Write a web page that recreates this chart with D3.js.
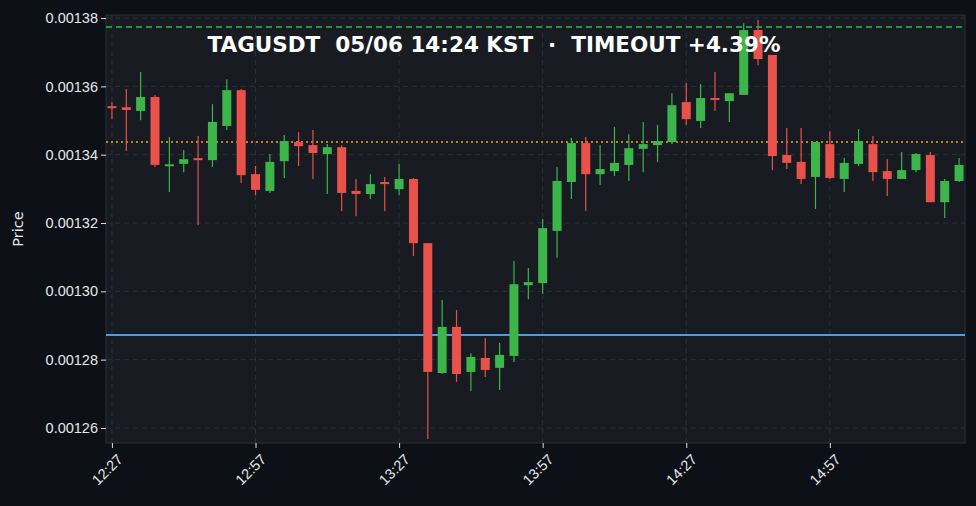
<!DOCTYPE html>
<html><head><meta charset="utf-8">
<script src="https://cdn.jsdelivr.net/npm/d3@7/dist/d3.min.js"></script>
<style>body{margin:0;background:#0d1117;}svg{display:block;font-family:"DejaVu Sans",sans-serif;}text{white-space:pre;}</style>
</head><body><svg id="c" width="976" height="506"></svg>
<script>
const startTime = "2024-05-06 12:27";
const stepMinutes = 3;
// prices in units of 1e-3 USDT
const opens  = [1.3542,1.3539,1.3528,1.3569,1.3370,1.3373,1.3390,1.3384,1.3484,1.3589,1.3343,1.3294,1.3381,1.3437,1.3428,1.3402,1.3422,1.3294,1.3285,1.3320,1.3299,1.3329,1.3141,1.2761,1.2896,1.2764,1.2805,1.2776,1.2811,1.3018,1.3024,1.3177,1.3320,1.3434,1.3343,1.3352,1.3370,1.3417,1.3428,1.3437,1.3554,1.3499,1.3566,1.3557,1.3575,1.3765,1.3692,1.3399,1.3379,1.3335,1.3431,1.3329,1.3373,1.3431,1.3352,1.3329,1.3355,1.3399,1.3261,1.3323];
const highs  = [1.3554,1.3592,1.3642,1.3575,1.3452,1.3414,1.3455,1.3548,1.3621,1.3592,1.3367,1.3402,1.3458,1.3466,1.3472,1.3431,1.3428,1.3329,1.3343,1.3335,1.3373,1.3332,1.3141,1.2975,1.2945,1.2819,1.2863,1.2849,1.3089,1.3068,1.3212,1.3364,1.3449,1.3452,1.3428,1.3481,1.3460,1.3496,1.3487,1.3580,1.3610,1.3607,1.3642,1.3580,1.3785,1.3794,1.3692,1.3478,1.3478,1.3437,1.3469,1.3390,1.3475,1.3455,1.3387,1.3408,1.3405,1.3408,1.3329,1.3390];
const lows   = [1.3504,1.3411,1.3501,1.3364,1.3291,1.3349,1.3194,1.3364,1.3472,1.3317,1.3282,1.3288,1.3332,1.3367,1.3329,1.3285,1.3235,1.3220,1.3270,1.3235,1.3282,1.3103,1.2568,1.2758,1.2735,1.2708,1.2749,1.2711,1.2793,1.2977,1.2992,1.3098,1.3270,1.3235,1.3311,1.3338,1.3323,1.3349,1.3379,1.3431,1.3487,1.3478,1.3528,1.3496,1.3575,1.3662,1.3355,1.3358,1.3314,1.3241,1.3329,1.3291,1.3367,1.3323,1.3279,1.3329,1.3349,1.3261,1.3215,1.3320];
const closes = [1.3537,1.3531,1.3569,1.3370,1.3372,1.3387,1.3384,1.3496,1.3589,1.3340,1.3297,1.3379,1.3440,1.3425,1.3405,1.3422,1.3288,1.3285,1.3314,1.3314,1.3329,1.3141,1.2764,1.2896,1.2758,1.2808,1.2770,1.2814,1.3021,1.3027,1.3185,1.3323,1.3434,1.3343,1.3358,1.3376,1.3419,1.3431,1.3440,1.3545,1.3504,1.3566,1.3560,1.3580,1.3765,1.3680,1.3396,1.3376,1.3329,1.3437,1.3332,1.3376,1.3440,1.3349,1.3329,1.3355,1.3402,1.3261,1.3323,1.3370];
const yTicks = [1.26,1.28,1.30,1.32,1.34,1.36,1.38];
const xTickEvery = 10; // candles
const targetLine = 1.3774, refLine = 1.3437, entryLine = 1.2872;
const titleText = "TAGUSDT  05/06 14:24 KST  ·  TIMEOUT +4.39%";

const parse = d3.timeParse("%Y-%m-%d %H:%M");
const t0 = parse(startTime);
const data = opens.map((o,i)=>({t:new Date(t0.getTime()+i*stepMinutes*60000),o,h:highs[i],l:lows[i],c:closes[i]}));

const svg = d3.select("#c");
const L=106,R=965,T=15,B=443;
svg.append("rect").attr("x",L).attr("y",T).attr("width",R-L).attr("height",B-T).attr("fill","#181b22").attr("stroke","#2c3038");
const pad = 1.24*60000;
const x = d3.scaleTime().domain([new Date(data[0].t-pad), new Date(+data[data.length-1].t+pad)]).range([L,R]);
const y = d3.scaleLinear().domain([1.2556,1.3809]).range([B,T]);
const xTicks = data.filter((d,i)=>i%xTickEvery===0).map(d=>d.t);

const g = svg.append("g");
g.selectAll(".gy").data(yTicks).join("line").attr("x1",L).attr("x2",R).attr("y1",d=>y(d)).attr("y2",d=>y(d)).attr("stroke","#2c3038").attr("stroke-dasharray","5,4");
g.selectAll(".gx").data(xTicks).join("line").attr("x1",d=>x(d)).attr("x2",d=>x(d)).attr("y1",T).attr("y2",B).attr("stroke","#2c3038").attr("stroke-dasharray","5,4");

const ya = svg.append("g").attr("transform",`translate(${L},0)`).call(d3.axisLeft(y).tickValues(yTicks).tickFormat(d=>(d/1000).toFixed(5)).tickSize(5));
ya.select(".domain").remove();
ya.selectAll("line").attr("stroke","#ddd");
ya.selectAll("text").attr("fill","#e6e6e6").attr("font-size",14.5);
const xa = svg.append("g").attr("transform",`translate(0,${B})`).call(d3.axisBottom(x).tickValues(xTicks).tickFormat(d3.timeFormat("%H:%M")).tickSize(5));
xa.select(".domain").remove();
xa.selectAll("line").attr("stroke","#ddd");
xa.selectAll("text").attr("fill","#e6e6e6").attr("font-size",14.5).attr("text-anchor","end").attr("transform","translate(4,6) rotate(-45)").attr("dy","0.35em").attr("dx","-0.2em");

svg.append("line").attr("x1",L).attr("x2",R).attr("y1",y(targetLine)).attr("y2",y(targetLine)).attr("stroke","#2ebd4e").attr("stroke-width",1.5).attr("stroke-dasharray","6,4");
svg.append("line").attr("x1",L).attr("x2",R).attr("y1",y(refLine)).attr("y2",y(refLine)).attr("stroke","#f5a623").attr("stroke-width",1.5).attr("stroke-dasharray","2,3");
svg.append("line").attr("x1",L).attr("x2",R).attr("y1",y(entryLine)).attr("y2",y(entryLine)).attr("stroke","#4a9cf0").attr("stroke-width",2);

const col = d=>d.c>=d.o?"#3cb54a":"#e8524a";
const cg = svg.append("g");
cg.selectAll(".w").data(data).join("line").attr("x1",d=>x(d.t)).attr("x2",d=>x(d.t)).attr("y1",d=>y(d.h)).attr("y2",d=>y(d.l)).attr("stroke",col).attr("stroke-width",1.2);
cg.selectAll(".b").data(data).join("rect").attr("x",d=>x(d.t)-4.5).attr("width",9)
  .attr("y",d=>y(Math.max(d.o,d.c))).attr("height",d=>Math.max(2,Math.abs(y(d.o)-y(d.c)))).attr("fill",col);

svg.append("text").attr("x",494).attr("y",52).attr("text-anchor","middle").attr("fill","#fff").attr("font-size",21.5).attr("font-weight","bold").text(titleText);
svg.append("text").attr("transform","translate(23,229) rotate(-90)").attr("text-anchor","middle").attr("fill","#e6e6e6").attr("font-size",14.5).text("Price");
</script></body></html>
